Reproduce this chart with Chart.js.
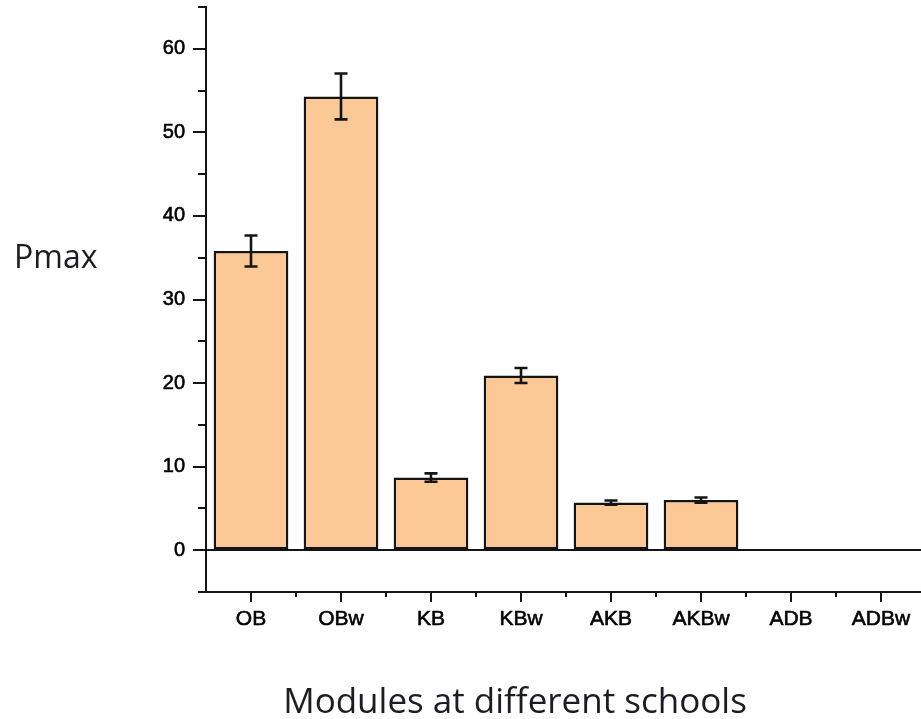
<!DOCTYPE html>
<html>
<head>
<meta charset="utf-8">
<title>Pmax by module</title>
<script src="https://cdn.jsdelivr.net/npm/chart.js@4.4.1/dist/chart.umd.min.js"></script>
<style>
  html, body { margin: 0; padding: 0; background: #ffffff; overflow: hidden; }
  canvas { display: block; }
</style>
</head>
<body>
<canvas id="chart" width="926" height="719"></canvas>
<script>
// Modules and their measured Pmax (mean and error)
const categories = ['OB', 'OBw', 'KB', 'KBw', 'AKB', 'AKBw', 'ADB', 'ADBw'];
const pmaxMeans  = [35.8, 54.3, 8.7, 20.9, 5.7, 6.0, 0, 0];
const pmaxErrors = [1.85, 2.75, 0.5, 0.9, 0.25, 0.3, 0, 0];

// Value axis range and tick spacing
const yMin = -5;
const yMax = 65;
const yStep = 5;

const yTitle = 'Pmax';
const xTitle = 'Modules at different schools';

const INK = '#141414';
const isMajor = v => v >= 0 && v % 10 === 0;

// Error bars, minor ticks and the free-standing axis titles
const extras = {
  id: 'extras',
  afterDatasetsDraw(chart) {
    const ctx = chart.ctx;
    const y = chart.scales.y;
    const meta = chart.getDatasetMeta(0);
    ctx.save();
    ctx.strokeStyle = INK;
    ctx.lineWidth = 2.6;
    meta.data.forEach((bar, i) => {
      const err = pmaxErrors[i];
      if (!err) return;
      const top = y.getPixelForValue(pmaxMeans[i] + err);
      const bot = y.getPixelForValue(pmaxMeans[i] - err);
      const cap = 6.5;
      ctx.beginPath();
      ctx.moveTo(bar.x, top); ctx.lineTo(bar.x, bot);
      ctx.moveTo(bar.x - cap, top); ctx.lineTo(bar.x + cap, top);
      ctx.moveTo(bar.x - cap, bot); ctx.lineTo(bar.x + cap, bot);
      ctx.stroke();
    });
    ctx.restore();
  },
  afterDraw(chart) {
    const ctx = chart.ctx;
    const { x, y } = chart.scales;
    const area = chart.chartArea;
    ctx.save();
    ctx.strokeStyle = INK;
    ctx.lineWidth = 2;
    ctx.beginPath();
    // minor ticks on the value axis
    for (let v = yMin; v <= yMax; v += yStep) {
      if (isMajor(v)) continue;
      const py = Math.round(y.getPixelForValue(v));
      ctx.moveTo(area.left - 8, py);
      ctx.lineTo(area.left, py);
    }
    // minor ticks between categories
    const band = x.getPixelForValue(1) - x.getPixelForValue(0);
    for (let i = 0; i < categories.length; i++) {
      const px = Math.round(x.getPixelForValue(i) + band / 2);
      ctx.moveTo(px, area.bottom);
      ctx.lineTo(px, area.bottom + 5);
    }
    ctx.stroke();

    ctx.fillStyle = '#1c1c24';
    ctx.textBaseline = 'alphabetic';
    ctx.textAlign = 'left';
    ctx.font = '32px "Open Sans", "Noto Sans", sans-serif';
    ctx.fillText(yTitle, 14, 268);
    ctx.textAlign = 'center';
    ctx.font = '35px "Open Sans", "Noto Sans", sans-serif';
    ctx.fillText(xTitle, 515, 713);
    ctx.restore();
  }
};

new Chart(document.getElementById('chart'), {
  type: 'bar',
  data: {
    labels: categories,
    datasets: [{
      label: yTitle,
      data: pmaxMeans,
      backgroundColor: '#fbc896',
      borderColor: INK,
      borderWidth: 2.5,
      borderSkipped: false,
      barPercentage: 0.83,
      categoryPercentage: 1.0
    }]
  },
  options: {
    responsive: false,
    animation: false,
    devicePixelRatio: 1,
    layout: { padding: { top: 7, left: 0, right: 0, bottom: 0 } },
    plugins: {
      legend: { display: false },
      tooltip: { enabled: false },
      title: { display: false }
    },
    scales: {
      x: {
        type: 'category',
        offset: true,
        afterFit(scale) {
          scale.height = 719 - 592;
          scale.paddingLeft = 0;
          scale.paddingRight = 0;
        },
        border: { display: true, color: INK, width: 2 },
        grid: {
          display: true,
          offset: false,
          drawOnChartArea: false,
          drawTicks: true,
          tickLength: 10,
          color: INK,
          lineWidth: 2
        },
        ticks: {
          color: '#000000',
          font: { family: 'Arial, "Liberation Sans", sans-serif', size: 21 },
          textStrokeColor: '#000000',
          textStrokeWidth: 0.6,
          padding: 5,
          maxRotation: 0,
          autoSkip: false
        }
      },
      y: {
        min: yMin,
        max: yMax,
        afterFit(scale) {
          scale.width = 206;
          scale.paddingTop = 0;
          scale.paddingBottom = 0;
        },
        border: { display: true, color: INK, width: 2 },
        grid: {
          display: true,
          drawOnChartArea: true,
          drawTicks: true,
          tickLength: 13,
          lineWidth: 2,
          color: c => (c.tick && c.tick.value === 0 ? INK : 'rgba(0,0,0,0)'),
          tickColor: c => (c.tick && isMajor(c.tick.value) ? INK : 'rgba(0,0,0,0)')
        },
        ticks: {
          stepSize: yStep,
          color: '#000000',
          font: { family: 'Arial, "Liberation Sans", sans-serif', size: 20 },
          textStrokeColor: '#000000',
          textStrokeWidth: 0.6,
          padding: 8,
          callback: v => (isMajor(v) ? String(v) : '')
        }
      }
    }
  },
  plugins: [extras]
});
</script>
</body>
</html>
